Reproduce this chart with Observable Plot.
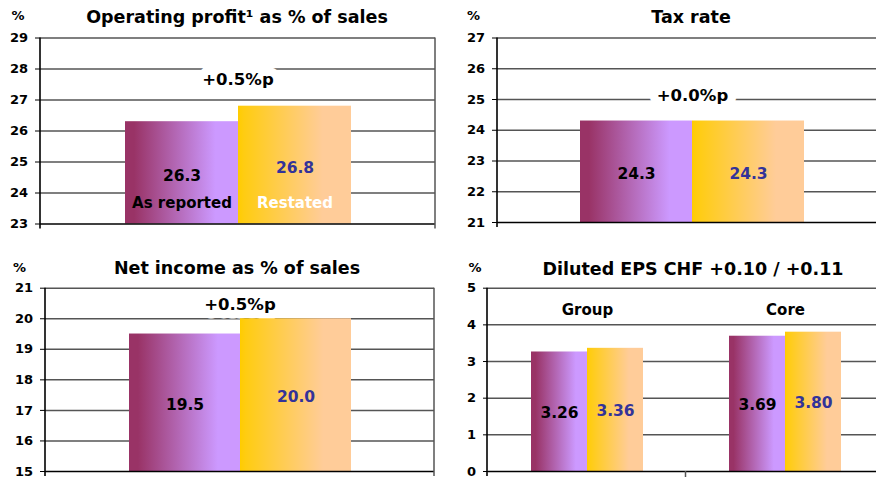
<!DOCTYPE html>
<html>
<head>
<meta charset="utf-8">
<script src="https://cdn.jsdelivr.net/npm/d3@7"></script>
<script src="https://cdn.jsdelivr.net/npm/@observablehq/plot@0.6"></script>
<style>
  html, body { margin: 0; padding: 0; background: #fff; overflow: hidden; }
  #root { position: relative; width: 876px; height: 477px; overflow: hidden; background: #fff; }
  #root svg.panel { position: absolute; overflow: visible; }
</style>
</head>
<body>
<svg width="0" height="0" style="position:absolute">
  <defs>
    <linearGradient id="gPurple" x1="0" y1="0" x2="1" y2="0">
      <stop offset="0" stop-color="#993366"/>
      <stop offset="0.08" stop-color="#993366"/>
      <stop offset="0.8" stop-color="#CC99FF"/>
      <stop offset="1" stop-color="#CC99FF"/>
    </linearGradient>
    <linearGradient id="gYellow" x1="0" y1="0" x2="1" y2="0">
      <stop offset="0" stop-color="#FFCC00"/>
      <stop offset="0.05" stop-color="#FFCC11"/>
      <stop offset="0.75" stop-color="#FFCC99"/>
      <stop offset="1" stop-color="#FFCC99"/>
    </linearGradient>
  </defs>
</svg>
<div id="root"></div>
<script>
// ---------- data ----------
const series = ["As reported", "Restated"];

const opProfitTitle = "Operating profit¹ as % of sales";
const opProfitValues = [26.3, 26.8];
const opProfitTicks = [23, 24, 25, 26, 27, 28, 29];
const opProfitChange = "+0.5%p";

const taxRateTitle = "Tax rate";
const taxRateValues = [24.3, 24.3];
const taxRateTicks = [21, 22, 23, 24, 25, 26, 27];
const taxRateChange = "+0.0%p";

const netIncomeTitle = "Net income as % of sales";
const netIncomeValues = [19.5, 20.0];
const netIncomeTicks = [15, 16, 17, 18, 19, 20, 21];
const netIncomeChange = "+0.5%p";

const epsTitle = "Diluted EPS CHF +0.10 / +0.11";
const epsGroups = ["Group", "Core"];
const epsGroupValues = [3.26, 3.36];
const epsCoreValues = [3.69, 3.80];
const epsTicks = [0, 1, 2, 3, 4, 5];

const unitLabel = "%";

// ---------- helpers ----------
const FONT = "DejaVu Sans";
const root = d3.select("#root");

function rowsFor(group, values) {
  return series.map((s, i) => ({group, series: s, value: values[i]}));
}

function panel({box, frame, ticks, rows, groups, fmt, change, changeDy, showSeriesLabels, valueDy}) {
  const [bl, bt, bw, bh] = box;
  const [x0, x1, y0, y1] = frame;
  const mL = x0 - bl, mR = bl + bw - x1, mT = y0 - bt, mB = bt + bh - y1;
  const ymin = ticks[0], ymax = ticks[ticks.length - 1];
  const faceted = groups.length > 1;
  const f = d3.format(fmt);

  const marks = [
    Plot.ruleY(ticks.slice(1), {stroke: "#555", strokeWidth: 1.5})
  ];
  if (change) {
    marks.push(Plot.text([change], {frameAnchor: "top", lineAnchor: "middle", dy: changeDy, text: d => d, fill: "#000",
      stroke: "#fff", strokeWidth: 17, fontSize: 16.5, fontWeight: "bold"}));
  }
  marks.push(
    Plot.barY(rows, {filter: d => d.series === series[0], x: "series", y1: ymin, y2: "value", fill: "url(#gPurple)"}),
    Plot.barY(rows, {filter: d => d.series === series[1], x: "series", y1: ymin, y2: "value", fill: "url(#gYellow)"}),
    Plot.ruleY([ymin], {stroke: "#000", strokeWidth: 1.6}),
    Plot.text(rows, {filter: d => d.series === series[0], x: "series", y: d => (ymin + d.value) / 2, dy: valueDy,
      lineAnchor: "middle", text: d => f(d.value), fill: "#000", fontSize: 15.5, fontWeight: "bold"}),
    Plot.text(rows, {filter: d => d.series === series[1], x: "series", y: d => (ymin + d.value) / 2, dy: valueDy,
      lineAnchor: "middle", text: d => f(d.value), fill: "#333399", fontSize: 15.5, fontWeight: "bold"})
  );
  if (showSeriesLabels) {
    marks.push(Plot.text(rows, {filter: d => d.series === series[0], x: "series", text: "series", frameAnchor: "bottom",
      lineAnchor: "middle", dy: -21, fill: "#000", fontSize: 15, fontWeight: "bold"}));
    marks.push(Plot.text(rows, {filter: d => d.series === series[1], x: "series", text: "series", frameAnchor: "bottom",
      lineAnchor: "middle", dy: -21, fill: "#fff", fontSize: 15, fontWeight: "bold"}));
  }
  if (faceted) {
    marks.push(Plot.text(rows, {filter: d => d.series === series[0], text: "group", frameAnchor: "top",
      lineAnchor: "middle", dy: 21.5, fill: "#000", fontSize: 15, fontWeight: "bold"}));
  }

  const opts = {
    width: bw, height: bh,
    marginLeft: mL, marginRight: mR, marginTop: mT, marginBottom: mB,
    style: {fontFamily: FONT, fontWeight: "bold", fontSize: "13px", background: "transparent", overflow: "visible", color: "#000"},
    x: {domain: series, paddingInner: 0, paddingOuter: 0.74, axis: null},
    y: {domain: [ymin, ymax], ticks: ticks, tickSize: 5, tickPadding: 7.5, tickFormat: d => String(d), label: null},
    marks
  };
  if (faceted) {
    opts.fx = {domain: groups, padding: 0, axis: null};
    opts.facet = {data: rows, x: "group", label: null};
  }
  const svg = Plot.plot(opts);
  svg.classList.add("panel");
  svg.style.left = bl + "px";
  svg.style.top = bt + "px";
  root.node().appendChild(svg);

  // axis line & category boundary ticks
  const s = d3.select(svg);
  const bottom = mT + (y1 - y0);
  const left = mL, right = bw - mR;
  s.append("line").attr("x1", left).attr("x2", left).attr("y1", mT).attr("y2", bottom + 5)
    .attr("stroke", "#000").attr("stroke-width", 1.6);
  s.append("line").attr("x1", right).attr("x2", right).attr("y1", mT).attr("y2", bottom + 5)
    .attr("stroke", "#555").attr("stroke-width", 1.5);
  const n = groups.length;
  for (let i = 1; i < n; i++) {
    const x = left + i * (right - left) / n;
    s.append("line").attr("x1", x).attr("x2", x).attr("y1", bottom).attr("y2", bottom + 6)
      .attr("stroke", "#555").attr("stroke-width", 1.5);
  }
}

// ---------- panels ----------
panel({box: [0, 20, 440, 220], frame: [40, 435, 37.5, 223.5], ticks: opProfitTicks,
  rows: rowsFor("", opProfitValues), groups: [""], fmt: ".1f",
  change: opProfitChange, changeDy: 42, showSeriesLabels: true, valueDy: 3});

panel({box: [440, 20, 450, 220], frame: [497, 887, 37.5, 222], ticks: taxRateTicks,
  rows: rowsFor("", taxRateValues), groups: [""], fmt: ".1f",
  change: taxRateChange, changeDy: 58, valueDy: 2});

panel({box: [0, 270, 440, 207], frame: [45, 434, 287.7, 471], ticks: netIncomeTicks,
  rows: rowsFor("", netIncomeValues), groups: [""], fmt: ".1f",
  change: netIncomeChange, changeDy: 17, valueDy: 2});

panel({box: [440, 270, 450, 207], frame: [487, 884, 287.7, 471], ticks: epsTicks,
  rows: [...rowsFor("Group", epsGroupValues), ...rowsFor("Core", epsCoreValues)], groups: epsGroups, fmt: ".2f",
  valueDy: 1.5});

// ---------- titles ----------
const overlay = root.append("svg").attr("width", 876).attr("height", 477)
  .style("position", "absolute").style("left", 0).style("top", 0).style("pointer-events", "none")
  .style("font-family", FONT).style("font-weight", "bold");
const titleItems = [
  {t: opProfitTitle, x: 237, y: 23},
  {t: taxRateTitle, x: 691, y: 23},
  {t: netIncomeTitle, x: 237, y: 274},
  {t: epsTitle, x: 693, y: 274.5}
];
overlay.selectAll("text.title").data(titleItems).join("text").attr("class", "title")
  .attr("x", d => d.x).attr("y", d => d.y).attr("text-anchor", "middle")
  .attr("font-size", 17.5).attr("fill", "#000").text(d => d.t);
const unitItems = [{x: 18, y: 19.5}, {x: 473.5, y: 19.5}, {x: 19.5, y: 272}, {x: 475, y: 272}];
overlay.selectAll("text.unit").data(unitItems).join("text").attr("class", "unit")
  .attr("x", d => d.x).attr("y", d => d.y).attr("text-anchor", "middle")
  .attr("font-size", 13).attr("fill", "#000").text(unitLabel);
</script>
</body>
</html>
